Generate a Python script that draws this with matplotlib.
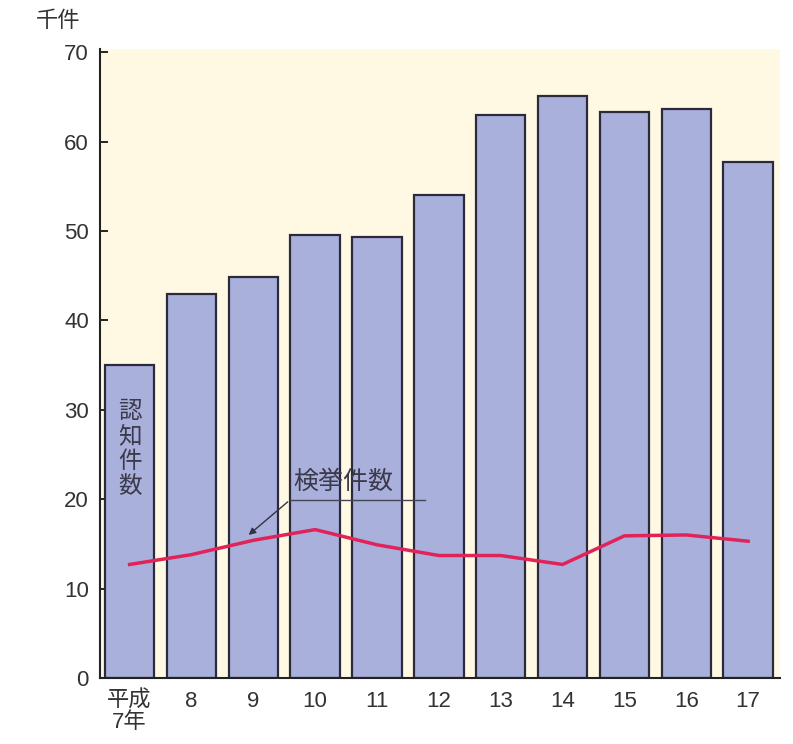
import numpy as np
import matplotlib
matplotlib.use('Agg')
import matplotlib.pyplot as plt

plt.rcParams['font.family'] = ['Liberation Sans', 'Noto Sans CJK JP', 'DejaVu Sans']

years = ['平成\n7年', '8', '9', '10', '11', '12', '13', '14', '15', '16', '17']
ninchi = [35.0, 43.0, 44.8, 49.5, 49.3, 54.0, 63.0, 65.1, 63.3, 63.6, 57.7]
kenkyo = [12.7, 13.8, 15.4, 16.6, 14.9, 13.7, 13.7, 12.7, 15.9, 16.0, 15.3]

fig = plt.figure(figsize=(7.93, 7.44), dpi=100)
ax = fig.add_axes([0.126, 0.0887, 0.858, 0.846])
ax.set_facecolor('#fff9e4')

x = np.arange(len(years))
ax.bar(x, ninchi, width=0.8, color='#aab0dc', edgecolor='#2a2a3a', linewidth=1.6, zorder=2)
ax.plot(x, kenkyo, color='#e0245a', linewidth=2.5, zorder=3)

ax.set_xlim(-0.48, 10.52)
ax.set_ylim(0, 70.4)
ax.set_yticks(range(0, 71, 10))
ax.set_xticks(x)
ax.set_xticklabels(years, fontsize=16, color='#333333', linespacing=1.0)
ax.tick_params(axis='y', direction='in', length=6, width=1.2, labelsize=16, labelcolor='#333333', pad=8)
ax.tick_params(axis='x', length=0, pad=9)
for s in ['top', 'right']:
    ax.spines[s].set_visible(False)
for s in ['left', 'bottom']:
    ax.spines[s].set_linewidth(1.5)
    ax.spines[s].set_color('#222222')

# labels
ax.text(0, 25.6, '認\n知\n件\n数', ha='center', va='center', fontsize=17,
        color='#3a3a4a', linespacing=1.1, zorder=4, family=['Noto Sans CJK JP'])
ax.text(3.46, 21.9, '検挙件数', ha='center', va='center', fontsize=18, color='#3a3a4a',
        zorder=4, family=['Noto Sans CJK JP'])
ax.plot([2.59, 4.77], [19.9, 19.9], color='#444455', linewidth=1, zorder=4)
ax.annotate('', xy=(1.89, 15.8), xytext=(2.59, 19.9),
            arrowprops=dict(arrowstyle='-|>', color='#333344', lw=1, mutation_scale=10), zorder=4)

fig.text(0.045, 0.972, '千件', fontsize=16, color='#333333', ha='left', va='center',
         family=['Noto Sans CJK JP'])

fig.savefig('out.png', dpi=100)
